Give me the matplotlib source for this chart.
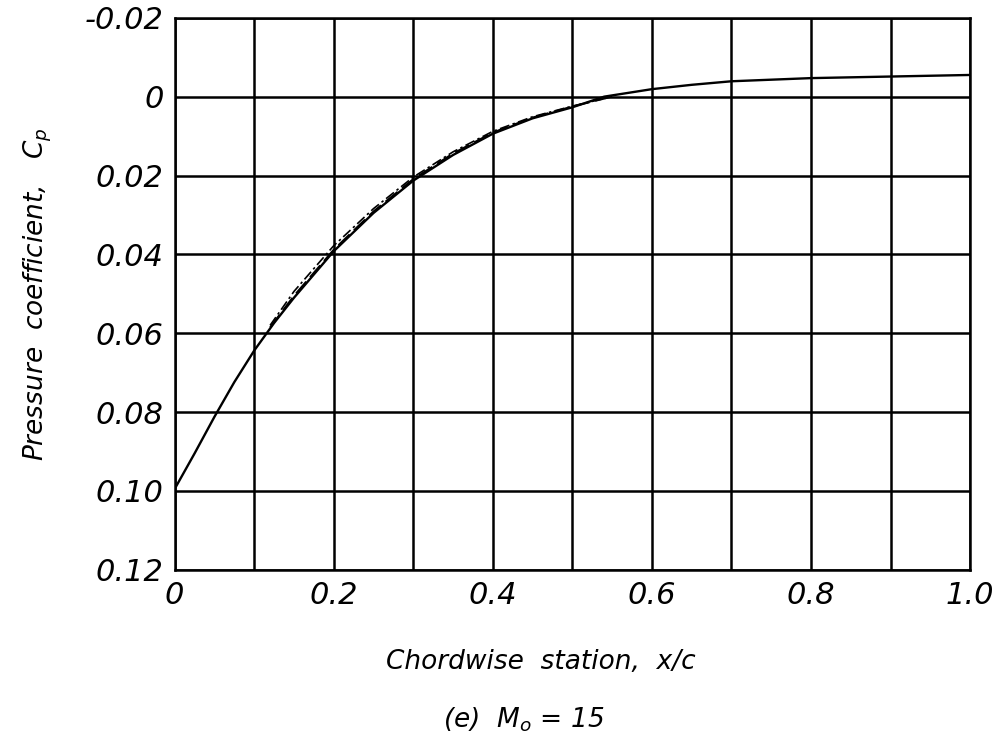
import matplotlib
matplotlib.use("Agg")
from matplotlib import pyplot as plt

# chordwise stations and pressure coefficients
x_solid = [0.0, 0.025, 0.05, 0.075, 0.1, 0.125, 0.15, 0.2, 0.25, 0.3, 0.35,
           0.4, 0.45, 0.5, 0.54, 0.6, 0.65, 0.7, 0.8, 0.9, 1.0]
cp_solid = [0.0995, 0.0905, 0.0812, 0.0724, 0.0644, 0.0574, 0.0510, 0.0392,
            0.0295, 0.0213, 0.0148, 0.0094, 0.0055, 0.0027, 0.0,
            -0.0019, -0.0030, -0.0039, -0.0047, -0.0051, -0.0055]

x_dash = [0.12, 0.15, 0.2, 0.25, 0.3, 0.35, 0.4, 0.45, 0.5, 0.55]
cp_dash = [0.0585, 0.0505, 0.0388, 0.0291, 0.0209, 0.0144, 0.0091,
           0.0053, 0.0025, 0.0]

x_dashdot = [0.12, 0.15, 0.2, 0.25, 0.3, 0.35, 0.4, 0.45, 0.5, 0.55]
cp_dashdot = [0.0580, 0.0494, 0.0378, 0.0284, 0.0204, 0.0140, 0.0088,
              0.0051, 0.0024, 0.0]

xticks = [0, 0.2, 0.4, 0.6, 0.8, 1.0]
xticklabels = ["0", "0.2", "0.4", "0.6", "0.8", "1.0"]
yticks = [-0.02, 0, 0.02, 0.04, 0.06, 0.08, 0.10, 0.12]
yticklabels = ["-0.02", "0", "0.02", "0.04", "0.06", "0.08", "0.10", "0.12"]

plt.rcParams["font.family"] = "DejaVu Sans"
plt.rcParams["font.style"] = "italic"
plt.rcParams["mathtext.default"] = "it"

fig = plt.figure(figsize=(9.98, 7.41), dpi=100)
ax = fig.add_axes([0.175, 0.231, 0.797, 0.745])

ax.plot(x_solid, cp_solid, color="black", lw=1.7, solid_joinstyle="round")
ax.plot(x_dash, cp_dash, color="black", lw=1.4, dashes=(8, 3))
ax.plot(x_dashdot, cp_dashdot, color="black", lw=1.2, dashes=(6, 2, 1.5, 2))

ax.set_xlim(0, 1.0)
ax.set_ylim(0.12, -0.02)

# grid every 0.1 in x, every 0.02 in Cp
ax.set_xticks([i / 10 for i in range(11)], minor=True)
ax.set_yticks(yticks)
ax.set_xticks(xticks)
ax.grid(True, which="both", color="black", lw=1.8)
ax.set_axisbelow(True)
for s in ax.spines.values():
    s.set_linewidth(1.8)

ax.set_xticklabels(xticklabels, fontsize=22, fontstyle="italic")
ax.set_yticklabels(yticklabels, fontsize=22, fontstyle="italic")
ax.tick_params(which="both", length=0, pad=8)

ax.set_ylabel("Pressure  coefficient,   $C_p$", fontsize=19, labelpad=22)
fig.text(0.542, 0.097, "Chordwise  station,  x/c", fontsize=19,
         ha="center", fontstyle="italic")
fig.text(0.525, 0.018, "(e)  $M_o$ = 15", fontsize=19, ha="center",
         fontstyle="italic")

fig.savefig("out.png", dpi=100)
